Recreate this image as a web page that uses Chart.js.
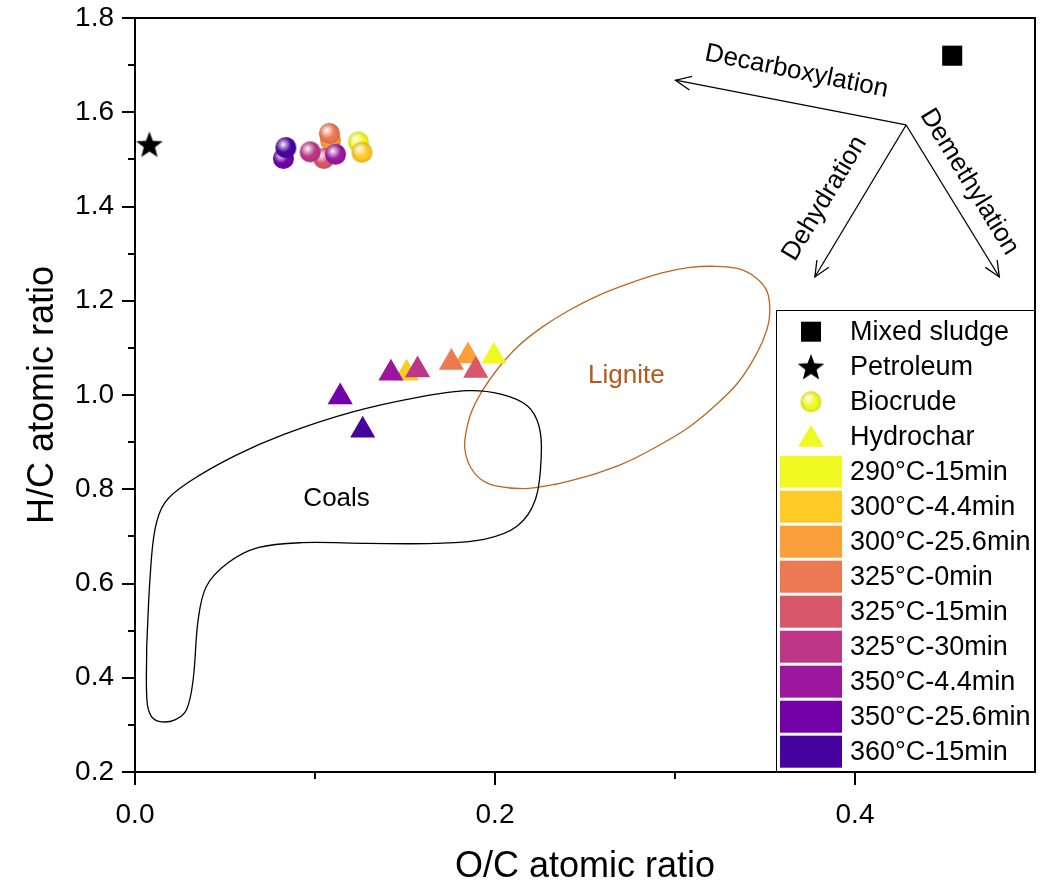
<!DOCTYPE html>
<html>
<head>
<meta charset="utf-8">
<script src="https://cdn.jsdelivr.net/npm/chart.js@4.4.0/dist/chart.umd.min.js"></script>
<style>
html, body { margin: 0; padding: 0; background: #fff; }
#wrap { width: 1050px; height: 889px; }
</style>
</head>
<body>
<div id="wrap"><canvas id="vk" width="1050" height="889"></canvas></div>
<script>
// HTL conditions, legend order (later ones drawn on top)
var conditions = ["290°C-15min", "300°C-4.4min", "300°C-25.6min", "325°C-0min", "325°C-15min",
                  "325°C-30min", "350°C-4.4min", "350°C-25.6min", "360°C-15min"];
var condColors = ["#f0f921", "#fdca26", "#fb9f3a", "#ed7953", "#d8576b",
                  "#bd3786", "#9c179e", "#7201a8", "#46039f"];
var typeLabels = ["Mixed sludge", "Petroleum", "Biocrude", "Hydrochar"];

// O/C and H/C atomic ratios
var biocrudeOC = [0.1241, 0.1261, 0.1086, 0.1080, 0.1049, 0.0973, 0.1114, 0.0825, 0.0838];
var biocrudeHC = [1.537, 1.515, 1.541, 1.555, 1.502, 1.516, 1.511, 1.502, 1.525];
var hydrocharOC = [0.1994, 0.1509, 0.1850, 0.1758, 0.1893, 0.1570, 0.1422, 0.1140, 0.1265];
var hydrocharHC = [1.082, 1.046, 1.083, 1.069, 1.052, 1.053, 1.046, 0.996, 0.925];
var sludgeOC = [0.454], sludgeHC = [1.72];
var petroleumOC = [0.008], petroleumHC = [1.532];

// region outlines
var coalOC = [0.0065, 0.0083, 0.0111, 0.0166, 0.0295, 0.0554, 0.0831, 0.1200, 0.1570, 0.1847, 0.2032,
              0.2179, 0.2244, 0.2257, 0.2225, 0.2124, 0.1939, 0.1662, 0.1293, 0.0924, 0.0683, 0.0517,
              0.0397, 0.0351, 0.0323, 0.0286, 0.0222, 0.0139, 0.0089, 0.0066, 0.0065];
var coalHC = [0.4666, 0.6085, 0.7150, 0.7717, 0.8143, 0.8709, 0.9170, 0.9632, 0.9950, 1.0092, 1.0020,
              0.9773, 0.9347, 0.8709, 0.7787, 0.7219, 0.6936, 0.6851, 0.6851, 0.6866, 0.6760, 0.6440,
              0.5943, 0.5234, 0.3957, 0.3319, 0.3106, 0.3070, 0.3191, 0.3532, 0.4666];
var ligniteOC = [0.2521, 0.2705, 0.2890, 0.3075, 0.3222, 0.3352, 0.3453, 0.3509, 0.3527, 0.3509, 0.3444,
                 0.3352, 0.3222, 0.3075, 0.2927, 0.2742, 0.2576, 0.2410, 0.2262, 0.2133, 0.2022, 0.1930,
                 0.1865, 0.1832, 0.1837, 0.1865, 0.1921, 0.2004, 0.2170, 0.2336, 0.2521];
var ligniteHC = [0.8284, 0.8532, 0.8887, 0.9312, 0.9773, 1.0270, 1.0872, 1.1369, 1.1794, 1.2220, 1.2504,
                 1.2681, 1.2731, 1.2702, 1.2589, 1.2362, 1.2113, 1.1794, 1.1440, 1.1050, 1.0589, 1.0092,
                 0.9596, 0.9028, 0.8745, 0.8461, 0.8213, 0.8071, 0.8014, 0.8106, 0.8284];

// reaction pathway arrows
var arrowNames = ["Decarboxylation", "Dehydration", "Demethylation"];
var arrowFromOC = 0.4284, arrowFromHC = 1.573;
var arrowTipOC = [0.3003, 0.3777, 0.4802];
var arrowTipHC = [1.668, 1.2504, 1.2504];
var arrowLabelOC = [0.3675, 0.3832, 0.4635];
var arrowLabelHC = [1.6866, 1.417, 1.4525];
var arrowLabelDeg = [11.5, -59, 58.5];

var xTicks = [0, 0.2, 0.4], xMinor = [0.1, 0.3];
var yTicks = [0.2, 0.4, 0.6, 0.8, 1.0, 1.2, 1.4, 1.6, 1.8];
var yMinor = [0.3, 0.5, 0.7, 0.9, 1.1, 1.3, 1.5, 1.7];

var FONT = "'Liberation Sans', Arial, Helvetica, sans-serif";

function pts(xs, ys) {
    var out = [];
    for (var i = 0; i < xs.length; i++) out.push({x: xs[i], y: ys[i]});
    return out;
}

function makeBall(color, r) {
    var c = document.createElement("canvas");
    var s = Math.ceil(r * 2 + 2);
    c.width = s; c.height = s;
    var g = c.getContext("2d");
    var cx = s / 2, cy = s / 2;
    g.beginPath(); g.arc(cx, cy, r, 0, Math.PI * 2); g.fillStyle = color; g.fill();
    var hl = g.createRadialGradient(cx - r * 0.25, cy - r * 0.3, 0, cx - r * 0.25, cy - r * 0.3, r * 0.75);
    hl.addColorStop(0, "rgba(255,255,255,1)");
    hl.addColorStop(0.25, "rgba(255,255,255,0.7)");
    hl.addColorStop(1, "rgba(255,255,255,0)");
    g.beginPath(); g.arc(cx, cy, r, 0, Math.PI * 2); g.fillStyle = hl; g.fill();
    var sh = g.createRadialGradient(cx, cy, r * 0.6, cx, cy, r);
    sh.addColorStop(0, "rgba(0,0,0,0)");
    sh.addColorStop(1, "rgba(0,0,0,0.12)");
    g.beginPath(); g.arc(cx, cy, r, 0, Math.PI * 2); g.fillStyle = sh; g.fill();
    return c;
}

function makeStar(r) {
    var c = document.createElement("canvas");
    var s = Math.ceil(r * 2 + 2);
    c.width = s; c.height = s;
    var g = c.getContext("2d");
    g.fillStyle = "#000";
    g.beginPath();
    for (var i = 0; i < 10; i++) {
        var rr = i % 2 ? r * 0.42 : r;
        var a = -Math.PI / 2 + i * Math.PI / 5;
        g.lineTo(s / 2 + rr * Math.cos(a), s / 2 + 1.3 + rr * Math.sin(a));
    }
    g.closePath(); g.fill();
    return c;
}

var balls = condColors.map(function (c) { return makeBall(c, 10.5); });
var star = makeStar(14);

function outline(label, xs, ys, color) {
    return {
        label: label, data: pts(xs, ys), showLine: true, tension: 0.35,
        borderColor: color, borderWidth: 1.3, pointRadius: 0, fill: false, order: 10
    };
}

var datasets = [
    outline("Coals", coalOC, coalHC, "#000"),
    outline("Lignite", ligniteOC, ligniteHC, "#c0651e")
];
for (var k = 0; k < arrowNames.length; k++) {
    datasets.push({
        label: arrowNames[k], data: [{x: arrowFromOC, y: arrowFromHC}, {x: arrowTipOC[k], y: arrowTipHC[k]}],
        showLine: true, borderColor: "#000", borderWidth: 1.3, pointRadius: 0, order: 9
    });
}
datasets.push({
    label: "Biocrude", data: pts(biocrudeOC, biocrudeHC),
    pointStyle: balls, pointRadius: 10.5, order: 3
});
datasets.push({
    label: "Hydrochar", data: pts(hydrocharOC, hydrocharHC),
    pointStyle: "triangle", pointRadius: 14.5, backgroundColor: condColors, borderColor: condColors,
    borderWidth: 0, order: 2
});
datasets.push({
    label: "Mixed sludge", data: pts(sludgeOC, sludgeHC),
    pointStyle: "rect", pointRadius: 14.2, backgroundColor: "#000", borderColor: "#000", borderWidth: 0, order: 1
});
datasets.push({
    label: "Petroleum", data: pts(petroleumOC, petroleumHC),
    pointStyle: star, pointRadius: 14, order: 1
});

function arrowHead(ctx, x0, y0, x1, y1) {
    var a = Math.atan2(y1 - y0, x1 - x0), len = 17, ang = 0.42;
    ctx.beginPath();
    ctx.moveTo(x1 - len * Math.cos(a - ang), y1 - len * Math.sin(a - ang));
    ctx.lineTo(x1, y1);
    ctx.lineTo(x1 - len * Math.cos(a + ang), y1 - len * Math.sin(a + ang));
    ctx.stroke();
}

function rotText(ctx, txt, x, y, deg) {
    ctx.save();
    ctx.translate(x, y);
    ctx.rotate(deg * Math.PI / 180);
    ctx.fillText(txt, 0, 0);
    ctx.restore();
}

var decor = {
    id: "decor",
    afterDraw: function (chart) {
        var ctx = chart.ctx, xs = chart.scales.x, ys = chart.scales.y, a = chart.chartArea;
        ctx.save();
        ctx.strokeStyle = "#000";
        ctx.lineWidth = 2;
        // frame top and right
        ctx.beginPath();
        ctx.moveTo(a.left - 1, a.top); ctx.lineTo(a.right, a.top); ctx.lineTo(a.right, a.bottom);
        ctx.stroke();
        // ticks, outward
        ctx.beginPath();
        yTicks.forEach(function (v) { var p = Math.round(ys.getPixelForValue(v)); ctx.moveTo(a.left - 13, p); ctx.lineTo(a.left, p); });
        yMinor.forEach(function (v) { var p = Math.round(ys.getPixelForValue(v)); ctx.moveTo(a.left - 7, p); ctx.lineTo(a.left, p); });
        xTicks.forEach(function (v) { var p = Math.round(xs.getPixelForValue(v)); ctx.moveTo(p, a.bottom); ctx.lineTo(p, a.bottom + 13); });
        xMinor.forEach(function (v) { var p = Math.round(xs.getPixelForValue(v)); ctx.moveTo(p, a.bottom); ctx.lineTo(p, a.bottom + 7); });
        ctx.stroke();

        // arrow heads and labels
        ctx.lineWidth = 1.3;
        var ox = xs.getPixelForValue(arrowFromOC), oy = ys.getPixelForValue(arrowFromHC);
        ctx.fillStyle = "#000";
        ctx.font = "26px " + FONT;
        ctx.textAlign = "center";
        ctx.textBaseline = "middle";
        for (var i = 0; i < arrowNames.length; i++) {
            arrowHead(ctx, ox, oy, xs.getPixelForValue(arrowTipOC[i]), ys.getPixelForValue(arrowTipHC[i]));
            rotText(ctx, arrowNames[i], xs.getPixelForValue(arrowLabelOC[i]), ys.getPixelForValue(arrowLabelHC[i]), arrowLabelDeg[i]);
        }

        // region labels
        ctx.font = "26px " + FONT;
        ctx.fillText("Coals", xs.getPixelForValue(0.112), ys.getPixelForValue(0.779));
        ctx.fillStyle = "#b5581c";
        ctx.fillText("Lignite", xs.getPixelForValue(0.273), ys.getPixelForValue(1.04));

        // legend box
        var L = a.right - 259, T = a.bottom - 462;
        ctx.fillStyle = "#fff";
        ctx.fillRect(L, T, a.right - L, a.bottom - T);
        ctx.lineWidth = 1;
        ctx.strokeStyle = "#000";
        ctx.strokeRect(L + 0.5, T + 0.5, a.right - L - 1, a.bottom - T - 1);
        var mx = L + 35, tx = L + 74;
        function rowY(i) { return T + 21.7 + i * 35; }
        // markers
        ctx.fillStyle = "#000";
        ctx.fillRect(mx - 10, rowY(0) - 10, 20, 20);
        ctx.drawImage(star, mx - star.width / 2, rowY(1) - star.height / 2);
        ctx.drawImage(balls[0], mx - balls[0].width / 2, rowY(2) - balls[0].height / 2);
        ctx.fillStyle = condColors[0];
        ctx.beginPath();
        ctx.moveTo(mx, rowY(3) - 12); ctx.lineTo(mx + 13, rowY(3) + 10); ctx.lineTo(mx - 13, rowY(3) + 10);
        ctx.closePath(); ctx.fill();
        for (var j = 0; j < conditions.length; j++) {
            ctx.fillStyle = condColors[j];
            ctx.fillRect(L + 4, rowY(4 + j) - 16, 62, 32);
        }
        ctx.fillStyle = "#000";
        ctx.font = "27px " + FONT;
        ctx.textAlign = "left";
        var labels = typeLabels.concat(conditions);
        for (var m = 0; m < labels.length; m++) ctx.fillText(labels[m], tx, rowY(m) + 1);
        ctx.restore();
    }
};

var tickFont = {family: FONT, size: 28};
var titleFont = {family: FONT, size: 36};

new Chart(document.getElementById("vk"), {
    type: "scatter",
    data: {datasets: datasets},
    options: {
        responsive: false,
        animation: false,
        events: [],
        devicePixelRatio: 1,
        layout: {padding: {top: 18, right: 13, left: 0, bottom: 0}},
        plugins: {legend: {display: false}, tooltip: {enabled: false}},
        scales: {
            x: {
                type: "linear", min: 0, max: 0.5,
                afterBuildTicks: function (s) { s.ticks = xTicks.map(function (v) { return {value: v}; }); },
                afterFit: function (s) { s.height = 117; s.paddingLeft = 0; s.paddingRight = 0; },
                grid: {display: false, drawTicks: true, tickLength: 13},
                border: {display: true, color: "#000", width: 2},
                ticks: {padding: 13, color: "#000", font: tickFont, maxRotation: 0, autoSkip: false,
                        callback: function (v) { return Number(v).toFixed(1); }},
                title: {display: true, text: "O/C atomic ratio", color: "#000", font: titleFont, padding: {top: 0, bottom: 0}}
            },
            y: {
                type: "linear", min: 0.2, max: 1.8,
                afterBuildTicks: function (s) { s.ticks = yTicks.map(function (v) { return {value: v}; }); },
                afterFit: function (s) { s.width = 135; s.paddingTop = 0; s.paddingBottom = 0; },
                grid: {display: false, drawTicks: true, tickLength: 13},
                border: {display: true, color: "#000", width: 2},
                ticks: {padding: 8, color: "#000", font: tickFont, autoSkip: false,
                        callback: function (v) { return Number(v).toFixed(1); }},
                title: {display: true, text: "H/C atomic ratio", color: "#000", font: titleFont, padding: {top: 21, bottom: 0}}
            }
        }
    },
    plugins: [decor]
});
</script>
</body>
</html>
